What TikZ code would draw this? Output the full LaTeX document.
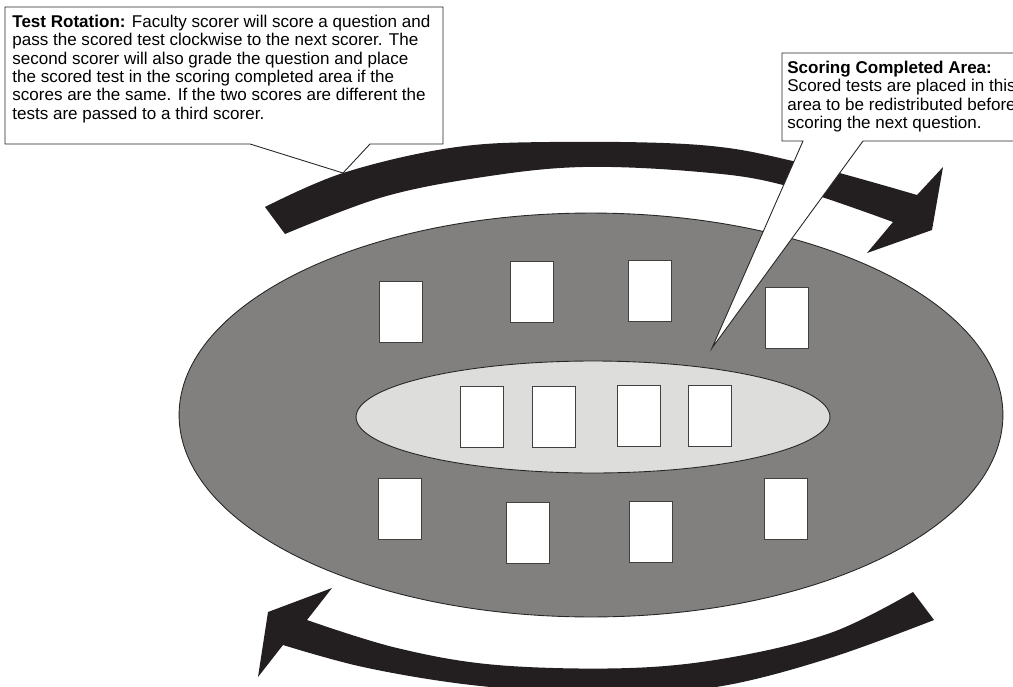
\documentclass[tikz,border=0pt]{standalone}
\usepackage{fontspec}
\setmainfont{Liberation Sans}
\usetikzlibrary{shapes.geometric}

\definecolor{tablegray}{RGB}{129,128,126}
\definecolor{donegray}{RGB}{221,221,219}
\definecolor{bandblack}{RGB}{35,31,32}

\begin{document}
\begin{tikzpicture}[x=0.02cm, y=-0.02cm,
  table/.style={ellipse, draw=black!85, fill=tablegray, line width=0.5pt, inner sep=0pt,
                minimum width=16.48cm, minimum height=8.08cm},
  donearea/.style={ellipse, draw=black!85, fill=donegray, line width=0.5pt, inner sep=0pt,
                   minimum width=9.48cm, minimum height=2.24cm},
  testsheet/.style={draw=black!75, fill=white, line width=0.5pt, inner sep=0pt,
                    minimum width=0.86cm, minimum height=1.21cm},
  band/.style={fill=bandblack},
  callout/.style={draw=black!85, fill=white, line width=0.5pt},
  note/.style={anchor=north west, align=left, inner sep=0pt,
               font=\fontsize{9.7}{10.4}\selectfont}
]

  \useasboundingbox (0,0) rectangle (1013,686);
  \clip (0,0) rectangle (1013,686);

  % Scoring table
  \node[table] (scoretable) at (591,415) {};

  % Scorer tests, top row
  \node[testsheet] (top1) at (401,312) {};
  \node[testsheet] (top2) at (532,292) {};
  \node[testsheet] (top3) at (650,291) {};
  \node[testsheet] (top4) at (787,318) {};

  % Scorer tests, bottom row
  \node[testsheet] (bot1) at (400,509) {};
  \node[testsheet] (bot2) at (528,533) {};
  \node[testsheet] (bot3) at (651,532) {};
  \node[testsheet] (bot4) at (786,509) {};

  % Scoring completed area
  \node[donearea] (donearea) at (593,417) {};
  \node[testsheet] (done1) at (482,417) {};
  \node[testsheet] (done2) at (554,417) {};
  \node[testsheet] (done3) at (639,416) {};
  \node[testsheet] (done4) at (710,416) {};

  % Rotation arrows
  \fill[band] plot[smooth, tension=0.6] coordinates {(265,207) (343,173) (450,148) (550,142)
      (700,145) (797,162) (917,195)}
    -- (943,167) -- (932,230) -- (867,253)
    -- plot[smooth, tension=0.6] coordinates {(893,222) (783,185) (700,172) (583,167)
      (483,177) (383,197) (285,234)} -- cycle;
  \fill[band] plot[smooth, tension=0.6] coordinates {(307,620) (397,648) (497,665) (630,668)
      (733,657) (833,632) (913,592)}
    -- (934,620)
    -- plot[smooth, tension=0.6] coordinates {(934,620) (833,657) (733,684) (650,693)
      (563,692) (463,684) (363,667) (283,645)}
    -- (258,677) -- (268,612) -- (332,588) -- cycle;

  % Callouts
  \coordinate (rottip) at (343,173);
  \coordinate (donetip) at (712,348);
  \draw[callout] (5,7) -- (443,7) -- (443,144) -- (370,144) -- (rottip) -- (250,144)
    -- (5,144) -- cycle;
  \draw[callout] (782,53) -- (1030,53) -- (1030,141) -- (863,141) -- (donetip) -- (803,141)
    -- (782,141) -- cycle;

  \node[note] (rotnote) at (12,15) {\textbf{Test Rotation:} Faculty scorer will score a question and\\
    pass the scored test clockwise to the next scorer. The\\
    second scorer will also grade the question and place\\
    the scored test in the scoring completed area if the\\
    scores are the same. If the two scores are different the\\
    tests are passed to a third scorer.};
  \node[note] (donenote) at (787,61) {\textbf{Scoring Completed Area:}\\
    Scored tests are placed in this\\
    area to be redistributed before\\
    scoring the next question.};

\end{tikzpicture}
\end{document}
